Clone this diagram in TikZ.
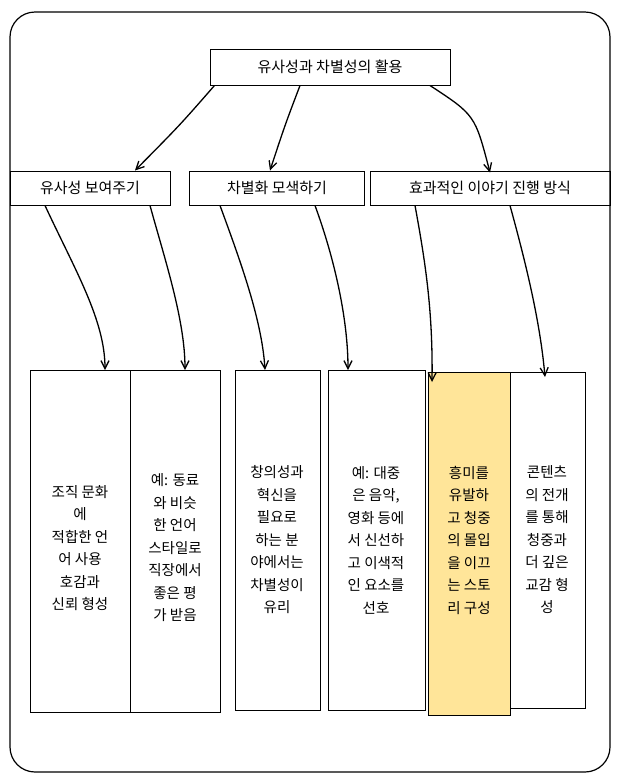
\documentclass[tikz,border=0pt]{standalone}
\usepackage{fontspec}
\setmainfont{Noto Sans CJK KR}
\usetikzlibrary{arrows.meta}
\definecolor{hl}{HTML}{FFE599}
\begin{document}
\begin{tikzpicture}[x=1pt,y=-1pt,
  box/.style={draw,line width=1pt,font=\fontsize{15}{18}\selectfont,inner sep=4pt},
  leaf/.style={draw,line width=1pt,anchor=north west},
  txt/.style={align=center,font=\fontsize{14.5}{22.5}\selectfont},
  arr/.style={line width=1.3pt,-{Straight Barb[length=8pt,width=8pt]}}]
\useasboundingbox (0,0) rectangle (620,780);
\draw[line width=1.2pt,rounded corners=25pt] (10,12) rectangle (610,772);
\node[box,minimum width=240,minimum height=36] (top) at (330,67) {유사성과 차별성의 활용};
\node[box,minimum width=160,minimum height=34] (a) at (90,188) {유사성 보여주기};
\node[box,minimum width=175,minimum height=34] (b) at (277,188) {차별화 모색하기};
\node[box,minimum width=240,minimum height=34] (c) at (490,188) {효과적인 이야기 진행 방식};
\node[leaf,minimum width=100,minimum height=342] (l1) at (30,370) {};
\node[txt] at (80,548) {조직 문화\\에\\적합한 언\\어 사용\\호감과\\신뢰 형성};
\node[leaf,minimum width=90,minimum height=342] (l2) at (130,370) {};
\node[txt] at (175,548) {예: 동료\\와 비슷\\한 언어\\스타일로\\직장에서\\좋은 평\\가 받음};
\node[leaf,minimum width=85,minimum height=340] (l3) at (235,370) {};
\node[txt] at (277,540) {창의성과\\혁신을\\필요로\\하는 분\\야에서는\\차별성이\\유리};
\node[leaf,minimum width=97,minimum height=340] (l4) at (328,370) {};
\node[txt] at (376,540) {예: 대중\\은 음악,\\영화 등에\\서 신선하\\고 이색적\\인 요소를\\선호};
\node[leaf,fill=hl,minimum width=82,minimum height=343] (l5) at (428,372) {};
\node[txt] at (469,540) {흥미를\\유발하\\고 청중\\의 몰입\\을 이끄\\는 스토\\리 구성};
\node[leaf,minimum width=75,minimum height=336] (l6) at (510,372) {};
\node[txt] at (547,540) {콘텐츠\\의 전개\\를 통해\\청중과\\더 깊은\\교감 형\\성};
\draw[arr] (top.south west) ++(5,0) .. controls (180,125) .. ([xshift=45]a.north);
\draw[arr] (top.south) ++(-30,0) .. controls (285,125) .. ([xshift=-7]b.north);
\draw[arr] (top.south) ++(100,0) .. controls (475,115) .. ([yshift=-2]c.north);
\draw[arr] ([xshift=-45]a.south) .. controls (75,270) and (105,320) .. ([xshift=75]l1.north west);
\draw[arr] ([xshift=60]a.south) .. controls (165,260) and (185,320) .. ([xshift=55]l2.north west);
\draw[arr] ([xshift=-57]b.south) .. controls (240,260) and (262,320) .. ([xshift=30]l3.north west);
\draw[arr] ([xshift=38]b.south) .. controls (335,260) and (348,320) .. ([xshift=20]l4.north west);
\draw[arr] ([xshift=-75]c.south) .. controls (425,260) and (433,310) .. ([xshift=4,yshift=-10]l5.north west);
\draw[arr] ([xshift=20]c.south) .. controls (525,260) and (540,320) .. ([xshift=35,yshift=-5]l6.north west);
\end{tikzpicture}
\end{document}
